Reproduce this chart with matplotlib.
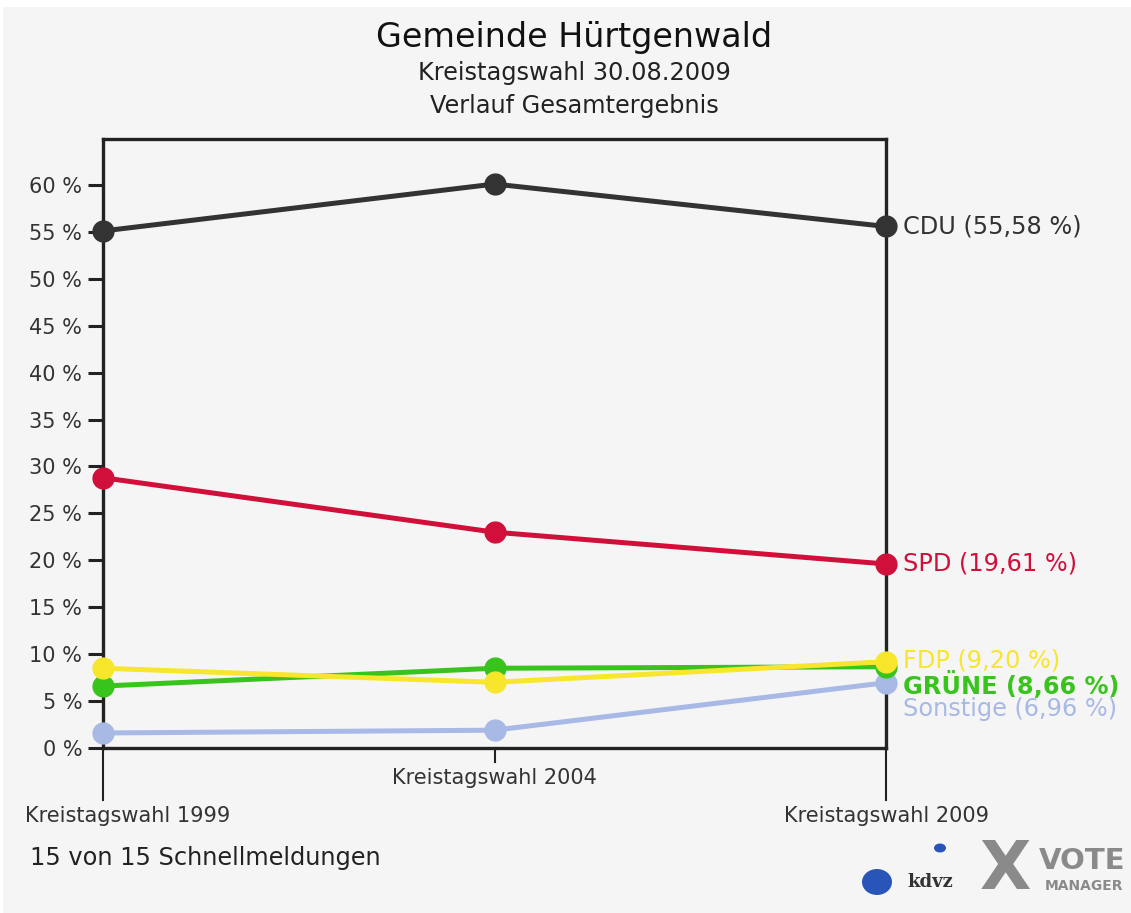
import matplotlib
matplotlib.use("Agg")
import matplotlib.pyplot as plt
from matplotlib.patches import Rectangle, Ellipse
from matplotlib.transforms import blended_transform_factory

plt.rcParams['font.family'] = ['DejaVu Sans']

elections = ["Kreistagswahl 1999", "Kreistagswahl 2004", "Kreistagswahl 2009"]
parties = ["CDU", "SPD", "FDP", "GRÜNE", "Sonstige"]
cdu = [55.1, 60.1, 55.58]
spd = [28.8, 23.0, 19.61]
fdp = [8.5, 7.0, 9.20]
gruene = [6.6, 8.5, 8.66]
sonstige = [1.6, 1.9, 6.96]
series = [cdu, spd, fdp, gruene, sonstige]
colors = ["#333333", "#d0103a", "#f7e62c", "#38c41c", "#a8b9e6"]
label_offsets = [0, 0, 1, -13, -19]  # points, to avoid overlap
label_weights = ["normal", "normal", "normal", "bold", "normal"]
yticks = list(range(0, 61, 5))
ytick_labels = [f"{v} %" for v in yticks]

W, H = 1131, 913
fig = plt.figure(figsize=(W / 100, H / 100), dpi=100, facecolor="white")
fig.patches.append(Rectangle((3 / W, 0), 1, 1 - 7 / H, transform=fig.transFigure,
                             facecolor="#f5f5f5", edgecolor="none", zorder=-10))

ax = fig.add_axes([103 / W, 165 / H, (886 - 103) / W, (748 - 139) / H])
ax.set_facecolor("#f5f5f5")
x = list(range(len(elections)))

draw_order = [4, 3, 2, 1, 0]
for i in draw_order:
    ax.plot(x, series[i], color=colors[i], lw=3.6, marker="o", ms=15,
            solid_capstyle="round", clip_on=False, zorder=3 + (5 - i) * 0.1)

for i, p in enumerate(parties):
    v = series[i][-1]
    txt = f"{p} ({v:.2f} %)".replace(".", ",")
    ax.annotate(txt, xy=(x[-1], v), xytext=(12, label_offsets[i]),
                textcoords="offset points", va="center", ha="left",
                color=colors[i], fontsize=17.3, fontweight=label_weights[i],
                annotation_clip=False)

ax.set_xlim(0, 2)
ax.set_ylim(0, 64.9)
ax.set_yticks(yticks)
ax.set_yticklabels(ytick_labels, fontsize=15, color="#333333")
ax.tick_params(axis="y", length=11, width=2.2, pad=4, color="#222222")
ax.set_xticks([])
for s in ax.spines.values():
    s.set_linewidth(2.4)
    s.set_color("#222222")

blend = blended_transform_factory(fig.transFigure, ax.transData)
# x category markers below the axis
for xi, lab in zip(x, elections):
    if xi == 1:
        ax.plot([xi, xi], [0, -1.5], color="#222222", lw=1.5, clip_on=False)
        ax.text(xi, -3.2, lab, ha="center", va="center", fontsize=15, color="#333333")
    else:
        ax.plot([xi, xi], [0, -5.5], color="#222222", lw=1.5, clip_on=False)
        if xi == 0:
            ax.text(25 / W, -7.2, lab, transform=blend, ha="left", va="center",
                    fontsize=15, color="#333333", clip_on=False)
        else:
            ax.text(xi, -7.2, lab, ha="center", va="center", fontsize=15, color="#333333")

fig.text(0.508, 1 - 38 / H, "Gemeinde Hürtgenwald", ha="center", va="center",
         fontsize=24, color="#111111")
fig.text(0.508, 1 - 73 / H, "Kreistagswahl 30.08.2009", ha="center", va="center",
         fontsize=17.3, color="#222222")
fig.text(0.508, 1 - 106 / H, "Verlauf Gesamtergebnis", ha="center", va="center",
         fontsize=17.3, color="#222222")
fig.text(30 / W, 1 - 858 / H, "15 von 15 Schnellmeldungen", ha="left", va="center",
         fontsize=17.3, color="#222222")

# logos (decorative)
fig.patches.append(Ellipse((877 / W, 1 - 882 / H), 30 / W, 26 / H, transform=fig.transFigure,
                           facecolor="#2a55b8", edgecolor="none"))
fig.patches.append(Ellipse((940 / W, 1 - 848 / H), 12 / W, 9 / H, transform=fig.transFigure,
                           facecolor="#2a55b8", edgecolor="none"))
fig.text(930 / W, 1 - 882 / H, "kdvz", ha="center", va="center", fontsize=13,
         fontweight="bold", family="DejaVu Serif", color="#333333")
fig.text(1005 / W, 1 - 870 / H, "X", ha="center", va="center", fontsize=48,
         fontweight="bold", color="#8a8a8a")
fig.text(1082 / W, 1 - 861 / H, "VOTE", ha="center", va="center", fontsize=21,
         fontweight="bold", color="#8a8a8a")
fig.text(1084 / W, 1 - 886 / H, "MANAGER", ha="center", va="center", fontsize=10,
         fontweight="bold", color="#8a8a8a")

fig.savefig("out.png", dpi=100, facecolor=fig.get_facecolor())
